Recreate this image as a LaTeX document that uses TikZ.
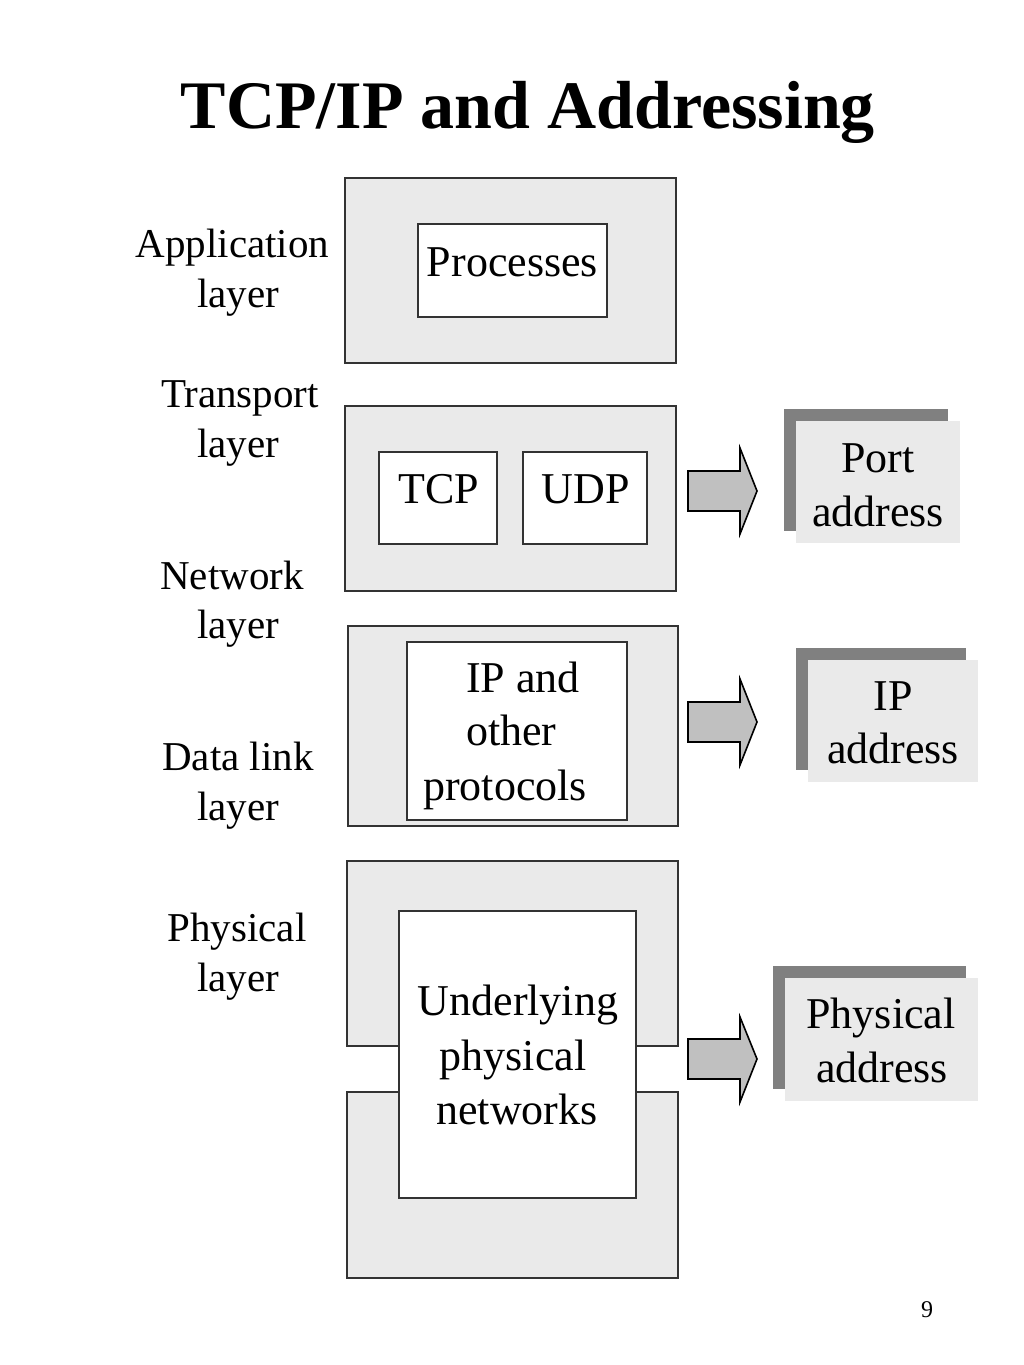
\documentclass[tikz,border=0pt]{standalone}
\usepackage{fontspec}
\setmainfont{Liberation Serif}
\usetikzlibrary{shadows}
\definecolor{boxgray}{HTML}{EAEAEA}
\definecolor{shadowgray}{HTML}{808080}
\definecolor{arrowgray}{HTML}{C0C0C0}
\definecolor{edgecol}{HTML}{333333}
\begin{document}
\begin{tikzpicture}[x=1pt,y=-1pt,
  layerbox/.style={draw=edgecol, line width=1.8pt, fill=boxgray, inner sep=0pt},
  innerbox/.style={draw=edgecol, line width=1.6pt, fill=white, inner sep=0pt},
  addrbox/.style={fill=boxgray, inner sep=0pt,
     general shadow={fill=shadowgray, shadow xshift=-12pt, shadow yshift=12pt}},
  txt/.style={inner sep=0pt, anchor=base, font=\fontsize{44}{50}\selectfont},
  txtw/.style={txt, anchor=base west},
  lbl/.style={inner sep=0pt, anchor=base, font=\fontsize{41}{50}\selectfont},
  blockarrow/.style={draw=black, line width=1.6pt, fill=arrowgray, line join=miter}]
\useasboundingbox (0,0) rectangle (1024,1365);
\fill[white] (0,0) rectangle (1024,1365);

% title
\node[inner sep=0pt, anchor=base, font=\fontsize{68}{72}\selectfont\bfseries] (title) at (528,128) {TCP/IP and Addressing};

% application layer
\node[layerbox, minimum width=331pt, minimum height=185pt] (app) at (510.5,270.5) {};
\node[innerbox, minimum width=189pt, minimum height=93pt] (proc) at (512.5,270.5) {};
\node[txt] (proct) at (512.5,276) {Processes};

% transport layer
\node[layerbox, minimum width=331pt, minimum height=185pt] (trans) at (510.5,498.5) {};
\node[innerbox, minimum width=118pt, minimum height=92pt] (tcp) at (438,498) {};
\node[innerbox, minimum width=124pt, minimum height=92pt] (udp) at (585,498) {};
\node[txt] (tcpt) at (438.5,503) {TCP};
\node[txt] (udpt) at (586,503) {UDP};

% network layer
\node[layerbox, minimum width=330pt, minimum height=200pt] (net) at (513,726) {};
\node[innerbox, minimum width=220pt, minimum height=178pt] (ip) at (517,731) {};
\node[txtw] (ipa) at (466,692) {IP and};
\node[txtw] (ipb) at (466,745) {other};
\node[txtw] (ipc) at (423,800) {protocols};

% data link / physical
\node[layerbox, minimum width=331pt, minimum height=185pt] (phyup) at (512.5,953.5) {};
\node[layerbox, minimum width=331pt, minimum height=186pt] (phylo) at (512.5,1185) {};
\node[innerbox, minimum width=237pt, minimum height=287pt] (under) at (517.5,1054.5) {};
\node[txt] (una) at (518,1015) {Underlying};
\node[txt] (unb) at (513,1070) {physical};
\node[txt] (unc) at (517,1124) {networks};

% layer labels
\node[lbl] (l1a) at (232.5,257) {Application};
\node[lbl] (l1b) at (238,307) {layer};
\node[lbl] (l2a) at (240,407) {Transport};
\node[lbl] (l2b) at (238,457) {layer};
\node[lbl] (l3a) at (232,589) {Network};
\node[lbl] (l3b) at (238,638) {layer};
\node[lbl] (l4a) at (238,770) {Data link};
\node[lbl] (l4b) at (238,820) {layer};
\node[lbl] (l5a) at (237,941) {Physical};
\node[lbl] (l5b) at (238,991) {layer};

% block arrows
\draw[blockarrow] (688,471) -- (740,471) -- (740,448) -- (757,491) -- (740,534) -- (740,511) -- (688,511) -- cycle;
\draw[blockarrow] (688,702) -- (740,702) -- (740,679) -- (757,722) -- (740,765) -- (740,742) -- (688,742) -- cycle;
\draw[blockarrow] (688,1039) -- (740,1039) -- (740,1017) -- (757,1059) -- (740,1102) -- (740,1079) -- (688,1079) -- cycle;

% address boxes
\node[addrbox, minimum width=164pt, minimum height=122pt] (port) at (878,482) {};
\node[txt] (porta) at (878,472) {Port};
\node[txt] (portb) at (878,526) {address};
\node[addrbox, minimum width=170pt, minimum height=122pt] (ipad) at (893,721) {};
\node[txt] (ipada) at (893,710) {IP};
\node[txt] (ipadb) at (893,763) {address};
\node[addrbox, minimum width=193pt, minimum height=123pt] (phad) at (881.5,1039.5) {};
\node[txt] (phada) at (881,1028) {Physical};
\node[txt] (phadb) at (882,1082) {address};

% page number
\node[inner sep=0pt, anchor=base, font=\fontsize{24}{28}\selectfont] (pnum) at (927,1317) {9};
\end{tikzpicture}
\end{document}
